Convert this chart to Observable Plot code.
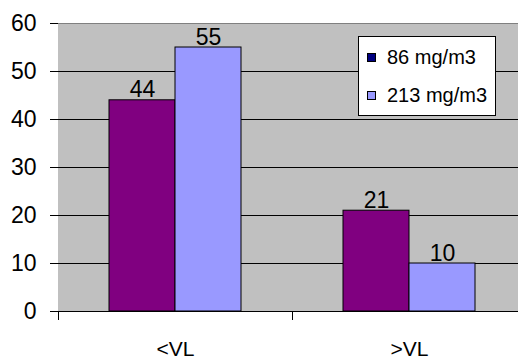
<!DOCTYPE html>
<html>
<head>
<meta charset="utf-8">
<script src="https://cdn.jsdelivr.net/npm/d3@7"></script>
<script src="https://cdn.jsdelivr.net/npm/@observablehq/plot@0.6"></script>
<style>
  html, body { margin: 0; padding: 0; background: white; overflow: hidden; }
  #wrap { position: relative; width: 518px; height: 361px; overflow: hidden; }
  #legend {
    position: absolute; left: 358px; top: 36px; width: 136px; height: 78px;
    background: white; border: 1px solid black;
    font-family: "Liberation Sans", Arial, sans-serif; font-size: 20px; color: black;
  }
  .item { position: absolute; left: 8px; display: flex; align-items: center; }
  .sw { width: 7px; height: 7px; border: 1px solid black; margin-right: 11px; }
</style>
</head>
<body>
<div id="wrap"><div id="legend"></div></div>
<script>
const categories = ["<VL", ">VL"];
const series = ["86 mg/m3", "213 mg/m3"];
const values86 = [44, 21];
const values213 = [55, 10];
const yTicks = [0, 10, 20, 30, 40, 50, 60];
const gridTicks = [10, 20, 30, 40, 50];
const barColors = ["#800080", "#9999FF"];
const legendColors = ["#000080", "#9999FF"];

const data = [];
categories.forEach((c, i) => {
  data.push({category: c, series: series[0], value: values86[i]});
  data.push({category: c, series: series[1], value: values213[i]});
});

const chart = Plot.plot({
  width: 518,
  height: 361,
  marginLeft: 58,
  marginRight: -8,
  marginTop: 23,
  marginBottom: 50,
  style: {fontFamily: "Liberation Sans, Arial, sans-serif", fontSize: "23px", color: "black", background: "white", overflow: "hidden"},
  fx: {domain: categories, padding: 0, label: null},
  x: {domain: series, paddingInner: 0, paddingOuter: 0.76, axis: null},
  y: {domain: [0, 60], ticks: yTicks, tickSize: 8, tickPadding: 14, label: null, line: true},
  color: {domain: series, range: barColors},
  marks: [
    Plot.frame({fill: "#c0c0c0", stroke: "#c0c0c0", shapeRendering: "crispEdges"}),
    Plot.frame({anchor: "top", stroke: "#808080"}),
    Plot.ruleY(gridTicks, {stroke: "black"}),
    Plot.barY(data, {fx: "category", x: "series", y: "value", fill: "series", stroke: "black"}),
    Plot.text(data, {fx: "category", x: "series", y: "value", text: d => String(d.value), lineAnchor: "bottom", dy: -3, fill: "black"}),
    Plot.ruleY([0], {stroke: "black"}),
    Plot.frame({anchor: "left", stroke: "black", insetTop: 288, insetBottom: -8}),
    Plot.axisFx({anchor: "bottom", tickSize: 0, tickPadding: 30, fontSize: 21, label: null})
  ]
});
document.getElementById("wrap").prepend(chart);

const legend = document.getElementById("legend");
series.forEach((s, i) => {
  const item = document.createElement("div");
  item.className = "item";
  item.style.top = (i === 0 ? 9 : 47) + "px";
  const sw = document.createElement("span");
  sw.className = "sw";
  sw.style.background = legendColors[i];
  const t = document.createElement("span");
  t.textContent = s;
  item.append(sw, t);
  legend.append(item);
});
</script>
</body>
</html>
